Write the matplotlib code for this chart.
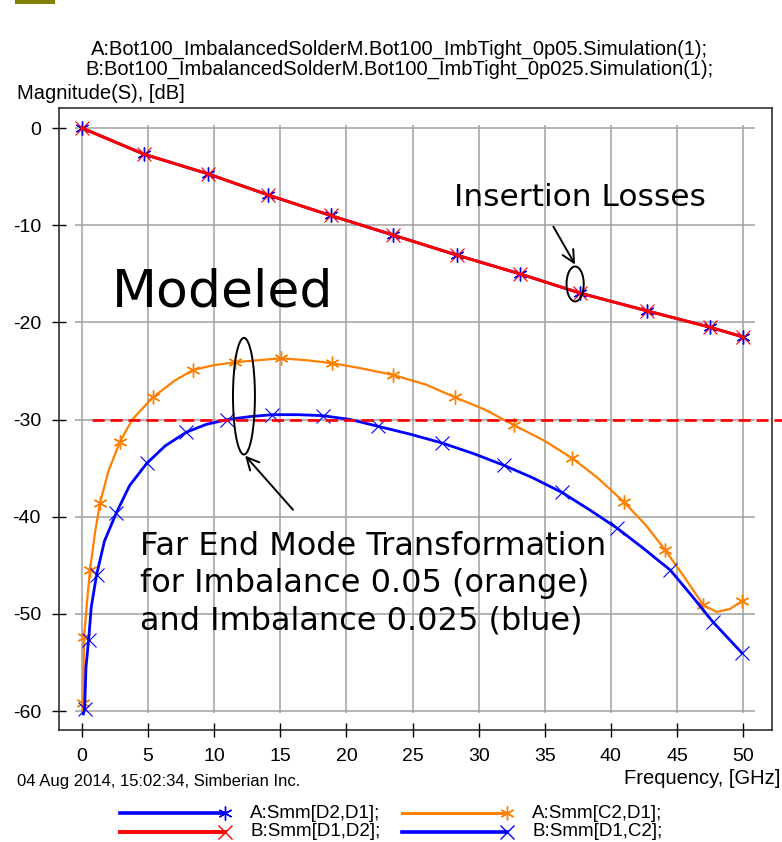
import matplotlib
matplotlib.use('Agg')
import matplotlib.pyplot as plt
from matplotlib.lines import Line2D
from matplotlib.patches import Ellipse, Rectangle

# %%
# S-parameter magnitudes, frequency in GHz, magnitude in dB
il_freq = [0.0, 4.7, 9.5, 14.1, 18.8, 23.5, 28.4, 33.1, 37.7, 42.7, 47.5, 50.0]
il_a = [0.0, -2.7, -4.7, -6.9, -9.0, -11.0, -13.1, -15.0, -17.0, -18.8, -20.5, -21.5]   # A:Smm[D2,D1]
il_b = [0.0, -2.7, -4.7, -6.9, -9.0, -11.0, -13.1, -15.0, -17.0, -18.8, -20.5, -21.5]   # B:Smm[D1,D2]

fe_a_freq = [0.05, 0.1, 0.15, 0.4, 0.6, 1.0, 1.36, 2.0, 2.87, 3.8, 5.37, 7.0, 8.4, 10.0,
             11.6, 13.3, 15.05, 17.0, 18.9, 21.0, 23.5, 26.0, 28.2, 30.5, 32.7, 35.0,
             37.1, 39.0, 41.0, 42.6, 44.1, 45.6, 47.0, 48.0, 49.0, 49.9]
fe_a = [-60.0, -59.2, -52.4, -48.5, -45.5, -41.5, -38.6, -35.3, -32.3, -30.0, -27.7, -26.0,
        -24.9, -24.4, -24.1, -23.9, -23.7, -23.9, -24.2, -24.7, -25.4, -26.4, -27.7, -29.0,
        -30.6, -32.2, -34.0, -36.0, -38.5, -40.8, -43.4, -46.3, -49.1, -49.8, -49.5, -48.7]   # A:Smm[C2,D1]
fe_a_marks = [1, 2, 4, 6, 8, 10, 12, 14, 16, 18, 20, 22, 24, 26, 28, 30, 32, 35]

fe_b_freq = [0.1, 0.2, 0.3, 0.5, 0.7, 1.1, 1.7, 2.6, 3.6, 4.9, 6.3, 7.9, 9.4, 11.0, 12.7,
             14.4, 16.3, 18.2, 20.3, 22.4, 24.8, 27.2, 29.6, 31.9, 34.1, 36.3, 38.4, 40.5,
             42.5, 44.5, 46.1, 47.7, 49.9]
fe_b = [-60.3, -59.8, -55.5, -52.7, -49.3, -46.0, -42.5, -39.6, -36.8, -34.5, -32.7, -31.3,
        -30.5, -30.0, -29.7, -29.5, -29.5, -29.6, -30.0, -30.7, -31.5, -32.4, -33.5, -34.7,
        -36.0, -37.5, -39.3, -41.2, -43.3, -45.5, -48.1, -50.8, -54.0]   # B:Smm[D1,C2]
fe_b_marks = [1, 3, 5, 7, 9, 11, 13, 15, 17, 19, 21, 23, 25, 27, 29, 31, 32]

xticks = [0, 5, 10, 15, 20, 25, 30, 35, 40, 45, 50]
yticks = [0, -10, -20, -30, -40, -50, -60]
limit_db = -30

legend_labels = ['A:Smm[D2,D1];', 'A:Smm[C2,D1];', 'B:Smm[D1,D2];', 'B:Smm[D1,C2];']

BLUE = '#0000ff'
ORANGE = '#ff8000'
RED = '#ff0000'
GRID = '#a0a0a0'
ast = (6, 2, 0)

# %%
plt.rcParams['font.family'] = ['Liberation Sans', 'DejaVu Sans']
plt.rcParams['axes.unicode_minus'] = False
W, H = 782, 842
fig = plt.figure(figsize=(W / 100, H / 100), dpi=100)
ax = fig.add_axes([59 / W, 1 - 730 / H, (772 - 59) / W, (730 - 108) / H])
ax.set_xlim(-1.74, 52.19)
ax.set_ylim(-61.95, 2.06)

ax.hlines(yticks, -0.5, 50.9, color=GRID, lw=1.1, zorder=0)
ax.vlines(xticks, -60.2, 0.3, color=GRID, lw=1.1, zorder=0)

ax.plot(il_freq, il_a, color=BLUE, lw=2.0, marker=ast, ms=10, mew=1.0)
ax.plot(fe_a_freq, fe_a, color=ORANGE, lw=1.6, marker=ast, ms=10, mew=1.0, markevery=fe_a_marks)
ax.plot(il_freq, il_b, color=RED, lw=2.2, marker='x', ms=10, mew=0.8)
ax.plot(fe_b_freq, fe_b, color=BLUE, lw=2.0, marker='x', ms=10, mew=0.8, markevery=fe_b_marks)

ax.plot([0.75, 52.95], [limit_db, limit_db], color=RED, lw=1.9, ls='--', dashes=(4.6, 2.2),
        clip_on=False, zorder=5)

ax.set_xticks(xticks)
ax.set_yticks(yticks)
ax.tick_params(direction='inout', length=10, width=1.0, color='black', pad=8, labelsize=14)
for s in ax.spines.values():
    s.set_color('#202020')
    s.set_linewidth(1.1)

# annotations drawn on the slide
ax.text(2.27, -16.9, 'Modeled', fontsize=37.5, family='DejaVu Sans', va='center', ha='left')
ax.text(28.1, -7.2, 'Insertion Losses', fontsize=22.5, family='DejaVu Sans', va='center', ha='left')
ax.add_patch(Ellipse((37.3, -16.05), 1.3, 3.6, fill=False, ec='black', lw=1.4, zorder=6))
ax.annotate('', xy=(37.4, -14.3), xytext=(35.55, -9.9),
            arrowprops=dict(arrowstyle='->', lw=1.4, color='black', mutation_scale=22))
ax.text(4.4, -43.1, 'Far End Mode Transformation', fontsize=23, family='DejaVu Sans', va='center')
ax.text(4.4, -46.9, 'for Imbalance 0.05 (orange)', fontsize=23, family='DejaVu Sans', va='center')
ax.text(4.4, -50.7, 'and Imbalance 0.025 (blue)', fontsize=23, family='DejaVu Sans', va='center')
ax.add_patch(Ellipse((12.25, -27.6), 1.66, 12.0, fill=False, ec='black', lw=1.4, zorder=6))
ax.annotate('', xy=(12.2, -33.5), xytext=(16.1, -39.5),
            arrowprops=dict(arrowstyle='->', lw=1.4, color='black', mutation_scale=22))

# header / footer texts
fig.text(399 / W, 1 - 55 / H, 'A:Bot100_ImbalancedSolderM.Bot100_ImbTight_0p05.Simulation(1);',
         ha='center', va='baseline', fontsize=14.5)
fig.text(399 / W, 1 - 75 / H, 'B:Bot100_ImbalancedSolderM.Bot100_ImbTight_0p025.Simulation(1);',
         ha='center', va='baseline', fontsize=14.5)
fig.text(17 / W, 1 - 99 / H, 'Magnitude(S), [dB]', ha='left', va='baseline', fontsize=14.5)
fig.text(17 / W, 1 - 786 / H, '04 Aug 2014, 15:02:34, Simberian Inc.', ha='left', va='baseline', fontsize=12)
fig.text(780 / W, 1 - 784 / H, 'Frequency, [GHz]', ha='right', va='baseline', fontsize=14.5)

# slide title remnant
fig.add_artist(Rectangle((15 / W, 1 - 4 / H), 40 / W, 4 / H, transform=fig.transFigure,
                         color='#7f7f00', lw=0))

# legend below the axes
leg = [(120, 813, BLUE, ast, 2.0), (402, 813, ORANGE, ast, 1.6),
       (120, 832, RED, 'x', 2.2), (402, 832, BLUE, 'x', 2.0)]
for (x0, y0, c, m, lw), lab in zip(leg, legend_labels):
    fig.add_artist(Line2D([x0 / W, (x0 + 105) / W], [1 - y0 / H, 1 - y0 / H], transform=fig.transFigure,
                          color=c, lw=lw + 0.6, marker=m, ms=10, mew=1.0, markevery=[1]))
    fig.text((x0 + 130) / W, 1 - y0 / H, lab, ha='left', va='center', fontsize=13.5)

fig.savefig('out.png', dpi=100)
